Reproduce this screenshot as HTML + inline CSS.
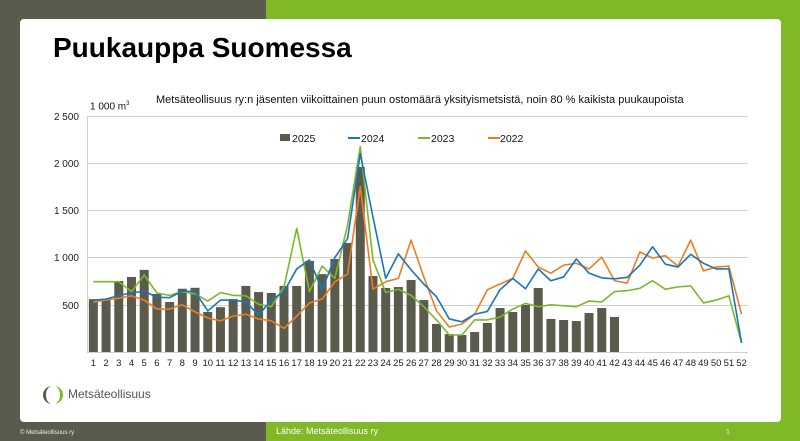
<!DOCTYPE html>
<html><head><meta charset="utf-8"><style>
body{margin:0;width:800px;height:441px;overflow:hidden;font-family:"Liberation Sans",sans-serif;position:relative;background:#80b828}
.dk{position:absolute;left:0;top:0;width:266px;height:441px;background:#5b5b4d}
.card{position:absolute;left:20px;top:19px;width:761px;height:403px;background:#fff;border-radius:4px}
.t{position:absolute;white-space:nowrap}
</style></head><body>
<div class="dk"></div>
<div class="card"></div>
<div class="t" style="left:53px;top:32px;font-size:28px;font-weight:bold;color:#000">Puukauppa Suomessa</div>
<div class="t" style="left:156px;top:94px;font-size:11px;color:#111">Metsäteollisuus ry:n jäsenten viikoittainen puun ostomäärä yksityismetsistä, noin 80 % kaikista puukaupoista</div>
<div class="t" style="left:90px;top:101px;font-size:10px;color:#111">1 000 m<sup style="font-size:6px">3</sup></div>
<svg width="800" height="441" style="position:absolute;left:0;top:0" id="s">
<g stroke="#d0d0d0" stroke-width="1">
<line x1="87" x2="748" y1="116.5" y2="116.5"/><line x1="87" x2="748" y1="163.5" y2="163.5"/><line x1="87" x2="748" y1="210.5" y2="210.5"/><line x1="87" x2="748" y1="257.5" y2="257.5"/><line x1="87" x2="748" y1="305.5" y2="305.5"/><line x1="87" x2="748" y1="352.5" y2="352.5"/><line x1="87.5" x2="87.5" y1="116" y2="352"/>
</g>
<g font-size="10" fill="#222" text-anchor="end">
<text x="79" y="120">2 500</text><text x="79" y="167">2 000</text><text x="79" y="214">1 500</text><text x="79" y="261">1 000</text><text x="79" y="309">500</text>
</g>
<g id="bars" fill="#5b5b4d"></g>
<g id="lines" fill="none" stroke-width="1.6" stroke-linejoin="round"></g>
<g id="xl" font-size="9.5" fill="#222" text-anchor="middle"></g>
<rect x="280" y="134" width="10" height="7" fill="#5b5b4d"/>
<text x="292" y="142" font-size="10.5" fill="#111">2025</text>
<line x1="348" x2="360" y1="138" y2="138" stroke="#1b75bb" stroke-width="2"/><text x="361" y="142" font-size="10.5" fill="#111">2024</text>
<line x1="418" x2="430" y1="138" y2="138" stroke="#7ab929" stroke-width="2"/><text x="431" y="142" font-size="10.5" fill="#111">2023</text>
<line x1="488" x2="500" y1="138" y2="138" stroke="#ed7d20" stroke-width="2"/><text x="500" y="142" font-size="10.5" fill="#111">2022</text>
<path d="M52 386 A9 9 0 0 0 52 404 A6 9 0 0 1 52 386Z" fill="#5b5b4d"/>
<path d="M54 386 A9 9 0 0 1 54 404 A6 9 0 0 0 54 386Z" fill="#7ab929"/>
<text x="68" y="398" font-size="12" fill="#555">Metsäteollisuus</text>
<text x="20" y="434" font-size="6" fill="#eee">© Metsäteollisuus ry</text>
<text x="276" y="434" font-size="9" fill="#fff">Lähde: Metsäteollisuus ry</text>
<text x="726" y="434" font-size="7" fill="#eee">1</text>
</svg>
<script>
var b=[560,550,752,795,870,615,530,670,680,425,475,560,700,635,625,700,700,965,825,985,1155,1960,805,678,688,763,550,297,190,180,212,307,466,424,498,678,350,339,328,413,466,371];
var L={"#ed7d20":[530,550,570,595,550,455,455,500,425,360,330,380,400,350,330,250,380,520,560,745,825,1750,665,745,780,1185,795,435,265,295,400,660,720,780,1070,900,835,920,940,880,1005,755,730,1060,995,1020,910,1185,860,900,910,400],
"#7ab929":[745,745,745,640,815,625,600,640,615,540,630,600,595,505,480,690,1310,640,910,780,1345,2175,975,630,665,600,480,340,180,180,340,340,370,455,515,480,500,490,480,540,530,640,650,675,755,665,690,700,520,550,595,95],
"#1b75bb":[550,560,600,625,645,580,575,645,640,435,550,550,530,390,550,640,880,975,660,1000,1200,2100,1430,780,1040,870,720,585,350,320,400,430,660,780,670,880,755,795,985,835,785,775,790,920,1115,930,900,1035,940,880,880,95]};
var W=12.71,cx=function(i){return 87+W*(i+0.5)},cy=function(v){return 352-v*236/2500};
var s="";b.forEach(function(v,i){s+='<rect x="'+(cx(i)-4.5)+'" y="'+cy(v)+'" width="9" height="'+(352-cy(v))+'"/>'});
document.getElementById("bars").innerHTML=s;
s="";for(var k in L){s+='<polyline stroke="'+k+'" points="'+L[k].map(function(v,i){return cx(i)+","+cy(v)}).join(" ")+'"/>'}
document.getElementById("lines").innerHTML=s;
s="";for(var i=0;i<52;i++){s+='<text x="'+cx(i)+'" y="366">'+(i+1)+'</text>'}
document.getElementById("xl").innerHTML=s;
</script>
</body></html>
